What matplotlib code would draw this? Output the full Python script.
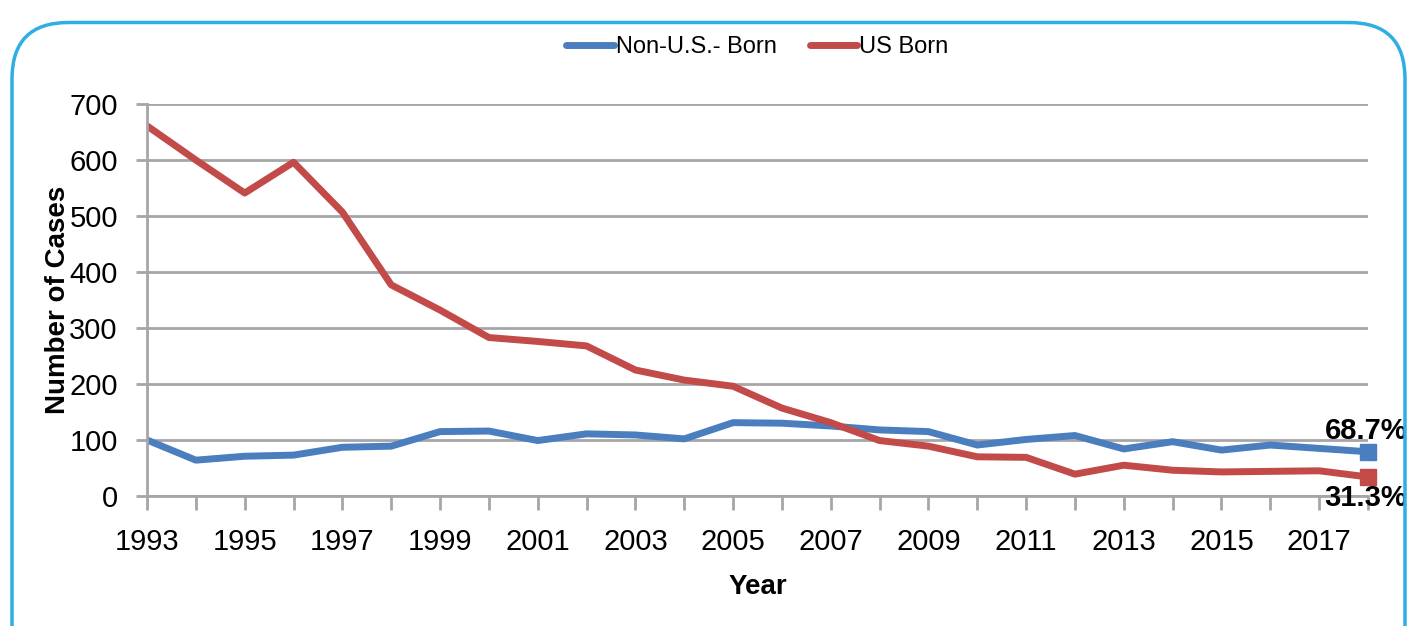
import matplotlib.pyplot as plt
from matplotlib.patches import FancyBboxPatch
from matplotlib import font_manager

years = list(range(1993, 2019))
non_us_born = [100, 64, 71, 73, 87, 89, 115, 116, 99, 111, 109, 102, 131, 130, 125,
               118, 115, 91, 101, 108, 84, 97, 82, 91, 85, 79]
us_born = [661, 600, 541, 596, 507, 377, 332, 283, 276, 268, 225, 207, 196, 157, 131,
           99, 89, 70, 69, 39, 55, 46, 43, 44, 45, 34]
share_labels = ["68.7%", "31.3%"]
tick_years = list(range(1993, 2019, 2))

names = {f.name for f in font_manager.fontManager.ttflist}
narrow = "Liberation Sans Narrow" if "Liberation Sans Narrow" in names else "Liberation Sans"
plt.rcParams['font.family'] = [narrow, 'DejaVu Sans']

BLUE = "#4a7ebf"
RED = "#c24b4a"
GRID = "#a6a6a8"

fig = plt.figure(figsize=(14.09, 6.26), dpi=100)

# rounded frame around the chart
frame = FancyBboxPatch((12 / 1409, -0.2), 1393 / 1409, (626 - 20) / 626 + 0.2 - 0.004,
                       boxstyle="round,pad=0,rounding_size=0.04",
                       transform=fig.transFigure, fill=False, ec="#2eaee3", lw=2.5,
                       mutation_aspect=1409 / 626)
fig.patches.append(frame)

ax = fig.add_axes([147 / 1409, 130 / 626, (1368 - 147) / 1409, (496 - 104) / 626])

ax.plot(years, non_us_born, color=BLUE, lw=5, solid_capstyle="round", label="Non-U.S.- Born")
ax.plot(years, us_born, color=RED, lw=5, solid_capstyle="round", label="US Born")
ax.plot(years[-1], non_us_born[-1], "s", color=BLUE, ms=11, clip_on=False)
ax.plot(years[-1], us_born[-1], "s", color=RED, ms=11, clip_on=False)

ax.set_xlim(1993, 2018)
ax.set_ylim(0, 700)
ax.set_yticks(range(0, 701, 100))
ax.set_xticks(years)
ax.set_xticklabels([str(y) if y in tick_years else "" for y in years])
ax.yaxis.grid(True, color=GRID, lw=2)
ax.set_axisbelow(True)

for s in ["top", "right"]:
    ax.spines[s].set_visible(False)
for s in ["left", "bottom"]:
    ax.spines[s].set_color(GRID)
    ax.spines[s].set_linewidth(2)
ax.tick_params(axis="x", length=10, width=2, color=GRID, labelsize=21, pad=13, direction="out")
ax.tick_params(axis="y", length=8, width=2, color=GRID, labelsize=21, pad=13, direction="out")

ax.set_xlabel("Year", fontsize=20, fontweight="bold")
ax.xaxis.set_label_coords(0.5, -0.2)
ax.set_ylabel("Number of Cases", fontsize=20, fontweight="bold")
ax.yaxis.set_label_coords(-0.062, 0.5)

ax.text(years[-1] + 0.8, non_us_born[-1] + 12, share_labels[0], fontsize=21, fontweight="bold",
        ha="right", va="bottom", clip_on=False)
ax.text(years[-1] + 0.8, us_born[-1] - 12, share_labels[1], fontsize=21, fontweight="bold",
        ha="right", va="top", clip_on=False)

ax.legend(loc="center", bbox_to_anchor=(0.5, 1.145), ncol=2, frameon=False, fontsize=17,
          handlelength=2.0, handletextpad=0.1, columnspacing=1.4)

fig.savefig("out.png", dpi=100)
